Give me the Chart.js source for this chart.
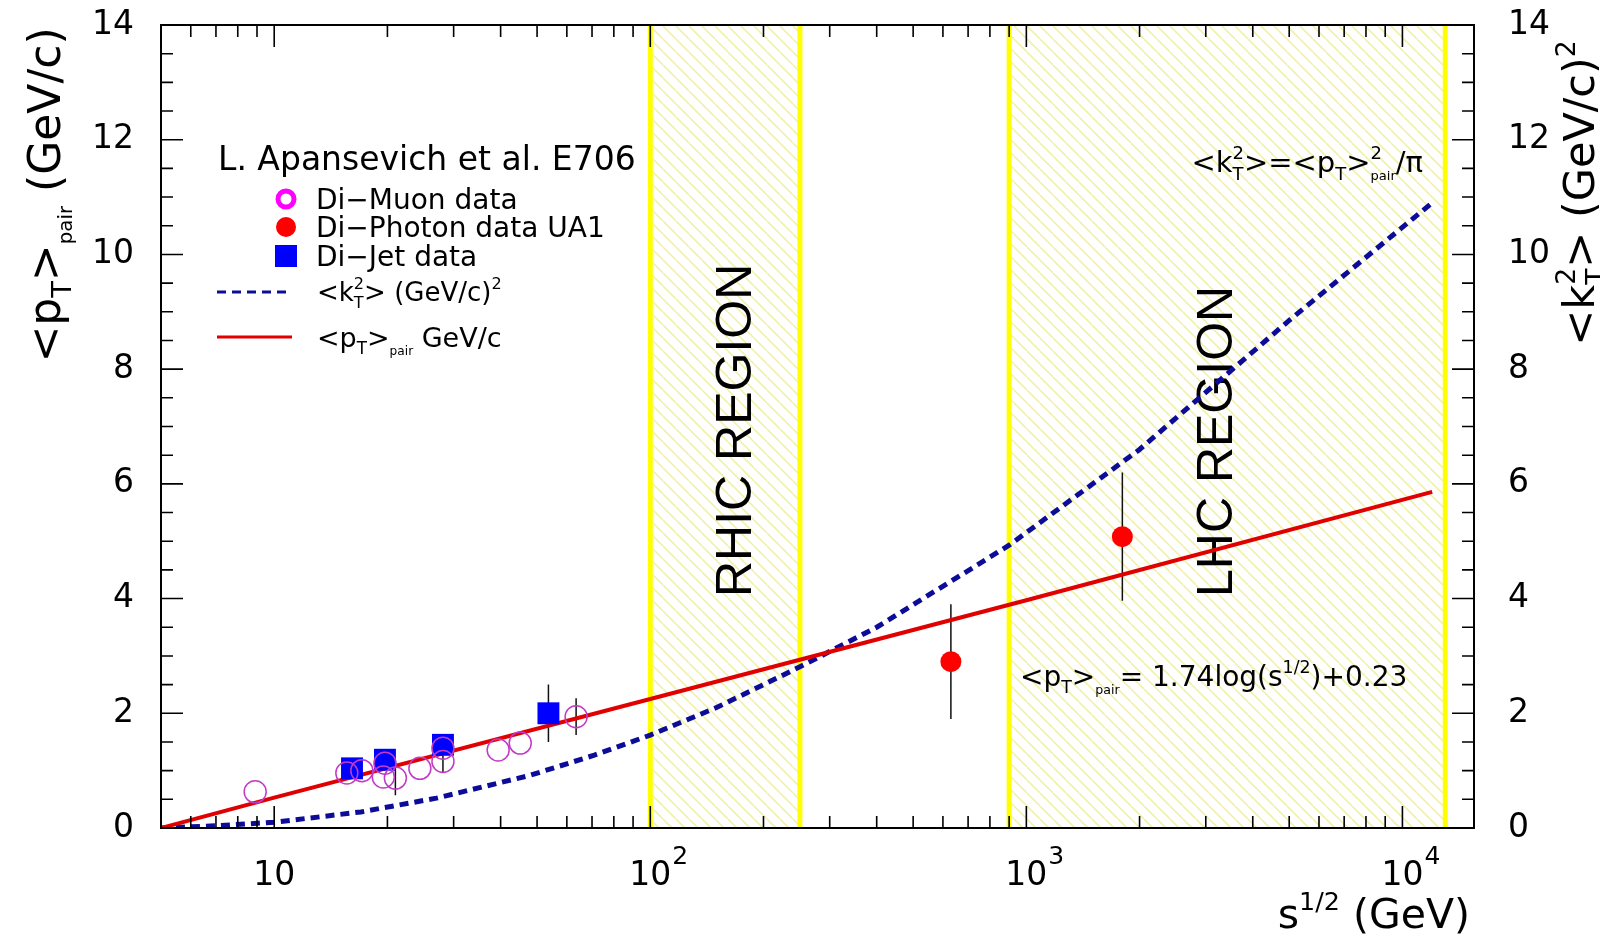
<!DOCTYPE html>
<html>
<head>
<meta charset="utf-8">
<script src="https://cdn.jsdelivr.net/npm/chart.js@4.4.1/dist/chart.umd.min.js"></script>
<style>
  html, body { margin: 0; background: #fff; }
</style>
</head>
<body>
<canvas id="c" width="1600" height="939"></canvas>
<script>
// sqrt(s) in GeV, <pT>pair in GeV/c, <kT^2> in (GeV/c)^2
const muonX = [8.9, 15.6, 17.1, 19.5, 19.7, 21.0, 24.4, 28.1, 28.1, 39.4, 45.1, 63.5];
const muonY = [0.63, 0.96, 1.0, 0.89, 1.13, 0.87, 1.04, 1.39, 1.16, 1.36, 1.48, 1.94];
const muonErr = [0, 0, 0, 0, 0, 0.3, 0, 0, 0.2, 0, 0, 0.32];

const photonX = [630, 1800];
const photonY = [2.9, 5.08];
const photonErr = [1.0, 1.12];

const jetX = [16.1, 19.7, 28.1, 53.6];
const jetY = [1.04, 1.19, 1.45, 2.0];
const jetErr = [0, 0, 0, 0.5];

const ptFitX = [5, 10, 100, 1000, 12000];
const ptFitY = [0, 0.53, 2.25, 3.97, 5.86];

const kt2X = [5, 7, 10, 17, 27, 48, 71, 100, 150, 250, 400, 900, 2000, 5000, 12000];
const kt2Y = [0, 0.04, 0.10, 0.28, 0.52, 0.92, 1.27, 1.62, 2.1, 2.81, 3.5, 4.93, 6.6, 8.85, 10.9];

const regionNames = ['RHIC REGION', 'LHC REGION'];
const regionLo = [100, 900];
const regionHi = [250, 13000];

const xTickValues = [10, 100, 1000, 10000];
const xTickLabels = [['10', ''], ['10', '2'], ['10', '3'], ['10', '4']];

const FONT = '"DejaVu Sans", sans-serif';
const TFONT = '"Liberation Sans", Arial, sans-serif';

const pts = (xs, ys) => xs.map((x, i) => ({ x, y: ys[i] }));

// [text, kind, hold]; hold = next segment stacks on the same x
const kinds = { n: [1, 0], b: [0.62, 0.26], p: [0.62, -0.45], s: [0.45, 0.28] };

function drawRich(ctx, segs, x, y, size, family, align) {
  const ws = segs.map(([t, k]) => {
    ctx.font = `${kinds[k][0] * size}px ${family}`;
    return ctx.measureText(t).width;
  });
  let total = 0, held = 0;
  segs.forEach(([t, k, hold], i) => {
    if (hold) held = Math.max(held, ws[i]);
    else { total += Math.max(held, ws[i]); held = 0; }
  });
  total += held;
  let cx = align === 'right' ? x - total : align === 'center' ? x - total / 2 : x;
  held = 0;
  ctx.textAlign = 'left';
  ctx.textBaseline = 'alphabetic';
  segs.forEach(([t, k, hold], i) => {
    ctx.font = `${kinds[k][0] * size}px ${family}`;
    ctx.fillText(t, cx, y + kinds[k][1] * size);
    if (hold) held = Math.max(held, ws[i]);
    else { cx += Math.max(held, ws[i]); held = 0; }
  });
}

function makeHatch() {
  const s = 13;
  const c = document.createElement('canvas');
  c.width = c.height = s;
  const g = c.getContext('2d');
  g.strokeStyle = '#f1f1ab';
  g.lineWidth = 1.6;
  g.beginPath();
  for (const o of [-s, 0, s]) { g.moveTo(o, 0); g.lineTo(o + s, s); }
  g.stroke();
  return c;
}

const regions = {
  id: 'regions',
  beforeDatasetsDraw(chart) {
    const { ctx, chartArea: a, scales: { x } } = chart;
    const pat = ctx.createPattern(makeHatch(), 'repeat');
    ctx.save();
    regionNames.forEach((name, i) => {
      const x0 = x.getPixelForValue(regionLo[i]);
      const x1 = x.getPixelForValue(regionHi[i]);
      ctx.fillStyle = pat;
      ctx.fillRect(x0, a.top, x1 - x0, a.bottom - a.top);
      ctx.strokeStyle = '#ffff00';
      ctx.lineWidth = 5;
      ctx.beginPath();
      ctx.moveTo(x0, a.top); ctx.lineTo(x0, a.bottom);
      ctx.moveTo(x1, a.top); ctx.lineTo(x1, a.bottom);
      ctx.stroke();
      ctx.save();
      ctx.translate(i === 0 ? (x0 + x1) / 2 + 26 : 1232, 597);
      ctx.rotate(-Math.PI / 2);
      ctx.fillStyle = '#000';
      ctx.font = `50px ${TFONT}`;
      ctx.textAlign = 'left';
      ctx.textBaseline = 'alphabetic';
      ctx.fillText(name, 0, 0);
      ctx.restore();
    });
    ctx.restore();
  }
};

const errorBars = {
  id: 'errorBars',
  beforeDatasetsDraw(chart) {
    const { ctx, scales: { x, y } } = chart;
    ctx.save();
    ctx.strokeStyle = '#111';
    ctx.lineWidth = 1.5;
    ctx.beginPath();
    [[muonX, muonY, muonErr], [jetX, jetY, jetErr], [photonX, photonY, photonErr]].forEach(([xs, ys, es]) => {
      xs.forEach((v, i) => {
        if (!es[i]) return;
        const px = x.getPixelForValue(v);
        ctx.moveTo(px, y.getPixelForValue(ys[i] - es[i]));
        ctx.lineTo(px, y.getPixelForValue(ys[i] + es[i]));
      });
    });
    ctx.stroke();
    ctx.restore();
  }
};

const frame = {
  id: 'frame',
  afterDatasetsDraw(chart) {
    const { ctx, chartArea: a, scales: { x, y } } = chart;
    ctx.save();
    ctx.strokeStyle = '#000';
    ctx.lineWidth = 2;
    ctx.strokeRect(a.left, a.top, a.right - a.left, a.bottom - a.top);

    ctx.lineWidth = 1.6;
    ctx.beginPath();
    // log ticks on bottom and top
    for (let d = 0; d <= 4; d++) {
      for (let m = 1; m <= 9; m++) {
        const v = m * Math.pow(10, d);
        if (v <= x.min || v >= x.max) continue;
        const px = x.getPixelForValue(v);
        const len = m === 1 ? 22 : 12;
        ctx.moveTo(px, a.bottom); ctx.lineTo(px, a.bottom - len);
        ctx.moveTo(px, a.top); ctx.lineTo(px, a.top + len);
      }
    }
    // y ticks on left and right
    for (let v = 0.5; v < 14; v += 0.5) {
      const py = y.getPixelForValue(v);
      const len = v % 2 === 0 ? 22 : 12;
      ctx.moveTo(a.left, py); ctx.lineTo(a.left + len, py);
      ctx.moveTo(a.right, py); ctx.lineTo(a.right - len, py);
    }
    ctx.stroke();

    ctx.fillStyle = '#000';
    // x tick labels
    xTickValues.forEach((v, i) => {
      const px = x.getPixelForValue(v);
      const [base, exp] = xTickLabels[i];
      ctx.font = `33px ${FONT}`;
      const w = ctx.measureText(base).width;
      ctx.textAlign = 'left';
      ctx.textBaseline = 'alphabetic';
      ctx.fillText(base, px - w / 2, 885);
      if (exp) {
        ctx.font = `25px ${FONT}`;
        ctx.fillText(exp, px + w / 2 + 1, 864);
      }
    });

    // axis titles
    drawRich(ctx, [['s', 'n'], ['1/2', 'p'], [' (GeV)', 'n']], 1470, 928, 41, FONT, 'right');
    ctx.save();
    ctx.translate(60, 195);
    ctx.rotate(-Math.PI / 2);
    drawRich(ctx, [['<p', 'n'], ['T', 'b'], ['>', 'n'], ['pair', 's'], [' (GeV/c)', 'n']], 0, 0, 44, FONT, 'center');
    ctx.restore();
    ctx.save();
    ctx.translate(1594, 193);
    ctx.rotate(-Math.PI / 2);
    drawRich(ctx, [['<k', 'n'], ['T', 'b', true], ['2', 'p'], ['>', 'n'], [' (GeV/c)', 'n'], ['2', 'p']], 0, 0, 43, FONT, 'center');
    ctx.restore();

    // formulas
    drawRich(ctx, [['<k', 'n'], ['T', 'b', true], ['2', 'p'], ['>=<p', 'n'], ['T', 'b'], ['>', 'n'], ['2', 'p', true], ['pair', 's'], ['/\u03c0', 'n']], 1423, 172, 29, FONT, 'right');
    drawRich(ctx, [['<p', 'n'], ['T', 'b'], ['>', 'n'], ['pair', 's'], ['= 1.74log(s', 'n'], ['1/2', 'p'], [')+0.23', 'n']], 1020, 686, 28, FONT, 'left');

    // legend
    const ds = chart.data.datasets;
    ctx.font = `33px ${FONT}`;
    ctx.textAlign = 'left';
    ctx.textBaseline = 'alphabetic';
    ctx.fillText('L. Apansevich et al. E706', 218, 170);

    ctx.strokeStyle = '#ff00ff';
    ctx.lineWidth = 5;
    ctx.beginPath(); ctx.arc(286, 199, 8, 0, Math.PI * 2); ctx.stroke();
    ctx.fillStyle = ds[4].backgroundColor;
    ctx.beginPath(); ctx.arc(286, 227, 10, 0, Math.PI * 2); ctx.fill();
    ctx.fillStyle = ds[2].backgroundColor;
    ctx.fillRect(275, 245, 22, 22);

    ctx.strokeStyle = ds[1].borderColor;
    ctx.lineWidth = 3;
    ctx.setLineDash([9, 6]);
    ctx.beginPath(); ctx.moveTo(217, 292); ctx.lineTo(292, 292); ctx.stroke();
    ctx.setLineDash([]);
    ctx.strokeStyle = ds[0].borderColor;
    ctx.lineWidth = 3;
    ctx.beginPath(); ctx.moveTo(217, 337); ctx.lineTo(292, 337); ctx.stroke();

    ctx.fillStyle = '#000';
    ctx.font = `28px ${FONT}`;
    ctx.fillText('Di\u2212Muon data', 316, 209);
    ctx.fillText('Di\u2212Photon data UA1', 316, 237);
    ctx.fillText('Di\u2212Jet data', 316, 266);
    drawRich(ctx, [['<k', 'n'], ['T', 'b', true], ['2', 'p'], ['> (GeV/c)', 'n'], ['2', 'p']], 317, 301, 26, FONT, 'left');
    drawRich(ctx, [['<p', 'n'], ['T', 'b'], ['>', 'n'], ['pair', 's'], [' GeV/c', 'n']], 317, 347, 27, FONT, 'left');
    ctx.restore();
  }
};

// fixed axis widths so the plot frame lands where the ticks are read from
const fixLeft = (s) => { s.width = 69; s.paddingTop = 0; s.paddingBottom = 0; };
const fixRight = (s) => { s.width = 76; s.paddingTop = 0; s.paddingBottom = 0; };

new Chart(document.getElementById('c'), {
  type: 'scatter',
  data: {
    datasets: [
      {
        label: '<pT>pair',
        data: pts(ptFitX, ptFitY),
        showLine: true,
        borderColor: '#e00000',
        borderWidth: 4,
        pointRadius: 0,
        tension: 0,
        order: 4
      },
      {
        label: '<kT2>',
        data: pts(kt2X, kt2Y),
        yAxisID: 'y2',
        showLine: true,
        borderColor: '#0c0c99',
        borderWidth: 5,
        borderDash: [9, 6],
        pointRadius: 0,
        tension: 0,
        order: 5
      },
      {
        label: 'Di-Jet data',
        data: pts(jetX, jetY),
        pointStyle: 'rect',
        pointRadius: 15.5,
        backgroundColor: '#0000ff',
        borderColor: '#0000ff',
        borderWidth: 0,
        order: 3
      },
      {
        label: 'Di-Muon data',
        data: pts(muonX, muonY),
        pointStyle: 'circle',
        pointRadius: 11,
        backgroundColor: 'rgba(0,0,0,0)',
        borderColor: '#c23ac8',
        borderWidth: 1.5,
        order: 2
      },
      {
        label: 'Di-Photon data UA1',
        data: pts(photonX, photonY),
        pointStyle: 'circle',
        pointRadius: 10.5,
        backgroundColor: '#ff0000',
        borderColor: '#ff0000',
        borderWidth: 0,
        order: 1
      }
    ]
  },
  options: {
    responsive: false,
    animation: false,
    events: [],
    layout: { padding: { left: 92, right: 50, top: 25, bottom: 111 } },
    plugins: { legend: { display: false }, tooltip: { enabled: false } },
    scales: {
      x: {
        type: 'logarithmic',
        min: 5,
        max: 15500,
        grid: { display: false, drawTicks: false },
        border: { display: false },
        ticks: { display: false }
      },
      y: {
        position: 'left',
        min: 0,
        max: 14,
        afterFit: fixLeft,
        grid: { display: false, drawTicks: false },
        border: { display: false },
        ticks: { stepSize: 2, color: '#000', padding: 27, font: { family: 'DejaVu Sans', size: 33 } }
      },
      y2: {
        position: 'right',
        min: 0,
        max: 14,
        afterFit: fixRight,
        grid: { display: false, drawTicks: false },
        border: { display: false },
        ticks: { stepSize: 2, color: '#000', padding: 34, font: { family: 'DejaVu Sans', size: 33 } }
      }
    }
  },
  plugins: [regions, errorBars, frame]
});
</script>
</body>
</html>
